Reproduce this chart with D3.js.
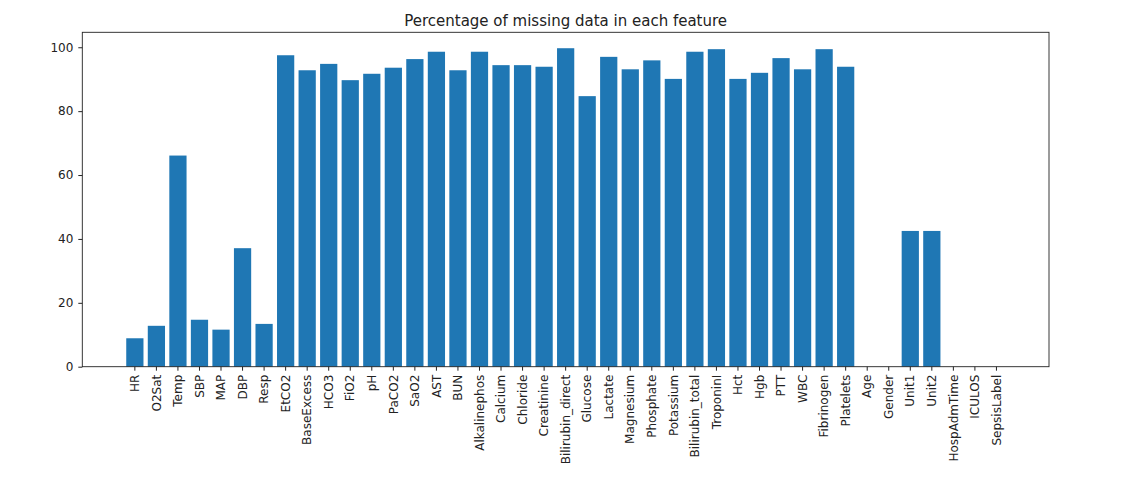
<!DOCTYPE html>
<html>
<head>
<meta charset="utf-8">
<script src="https://cdn.jsdelivr.net/npm/d3@7"></script>
<style>
  html, body { margin: 0; padding: 0; background: #fff; }
  svg { display: block; font-family: "DejaVu Sans", sans-serif; }
</style>
</head>
<body>
<svg id="chart" width="1122" height="490"></svg>
<script>
const categories = ["HR","O2Sat","Temp","SBP","MAP","DBP","Resp","EtCO2","BaseExcess","HCO3","FiO2","pH","PaCO2","SaO2","AST","BUN","Alkalinephos","Calcium","Chloride","Creatinine","Bilirubin_direct","Glucose","Lactate","Magnesium","Phosphate","Potassium","Bilirubin_total","TroponinI","Hct","Hgb","PTT","WBC","Fibrinogen","Platelets","Age","Gender","Unit1","Unit2","HospAdmTime","ICULOS","SepsisLabel"];
const missingPct = [8.9,12.8,66.1,14.7,11.6,37.1,13.4,97.5,92.8,94.8,89.7,91.7,93.6,96.3,98.6,92.8,98.6,94.4,94.4,93.9,99.7,84.7,97.0,93.1,95.9,90.1,98.6,99.4,90.1,92.0,96.6,93.1,99.4,93.9,0,0,42.5,42.5,0,0,0];
const yTicks = [0,20,40,60,80,100];
const title = "Percentage of missing data in each feature";

const svg = d3.select("#chart");
const plotLeft = 82.3, plotRight = 1049, plotTop = 32.3, plotBottom = 366.7;

const x = d3.scaleBand().domain(categories).range([plotLeft, plotRight]).paddingInner(0.2).paddingOuter(2.04);
const y = d3.scaleLinear().domain([0, d3.max(missingPct) * 1.05]).range([plotBottom, plotTop]);

svg.append("g").selectAll("rect").data(categories).join("rect")
  .attr("x", d => x(d))
  .attr("width", x.bandwidth())
  .attr("y", (d, i) => y(missingPct[i]))
  .attr("height", (d, i) => y(0) - y(missingPct[i]))
  .attr("fill", "#1f77b4");

// frame
svg.append("rect").attr("x", plotLeft).attr("y", plotTop).attr("width", plotRight - plotLeft).attr("height", plotBottom - plotTop)
  .attr("fill", "none").attr("stroke", "#222").attr("stroke-width", 0.9);

const yAxis = svg.append("g").attr("transform", `translate(${plotLeft},0)`)
  .call(d3.axisLeft(y).tickValues(yTicks).tickSize(4).tickPadding(5).tickFormat(d3.format("d")));
yAxis.select(".domain").remove();
yAxis.selectAll("line").attr("stroke", "#222");
yAxis.selectAll("text").attr("font-size", 12).attr("fill", "#222").attr("font-family", "DejaVu Sans");

const xAxis = svg.append("g").attr("transform", `translate(0,${plotBottom})`)
  .call(d3.axisBottom(x).tickSize(4).tickPadding(4));
xAxis.select(".domain").remove();
xAxis.selectAll("line").attr("stroke", "#222");
xAxis.selectAll("text")
  .attr("font-size", 12).attr("fill", "#222").attr("font-family", "DejaVu Sans")
  .attr("transform", "rotate(-90)")
  .attr("text-anchor", "end")
  .attr("x", -8).attr("y", 0).attr("dy", "0.35em");

svg.append("text").attr("x", (plotLeft + plotRight) / 2).attr("y", 25.5)
  .attr("text-anchor", "middle").attr("font-size", 15).attr("fill", "#222")
  .text(title);
</script>
</body>
</html>
